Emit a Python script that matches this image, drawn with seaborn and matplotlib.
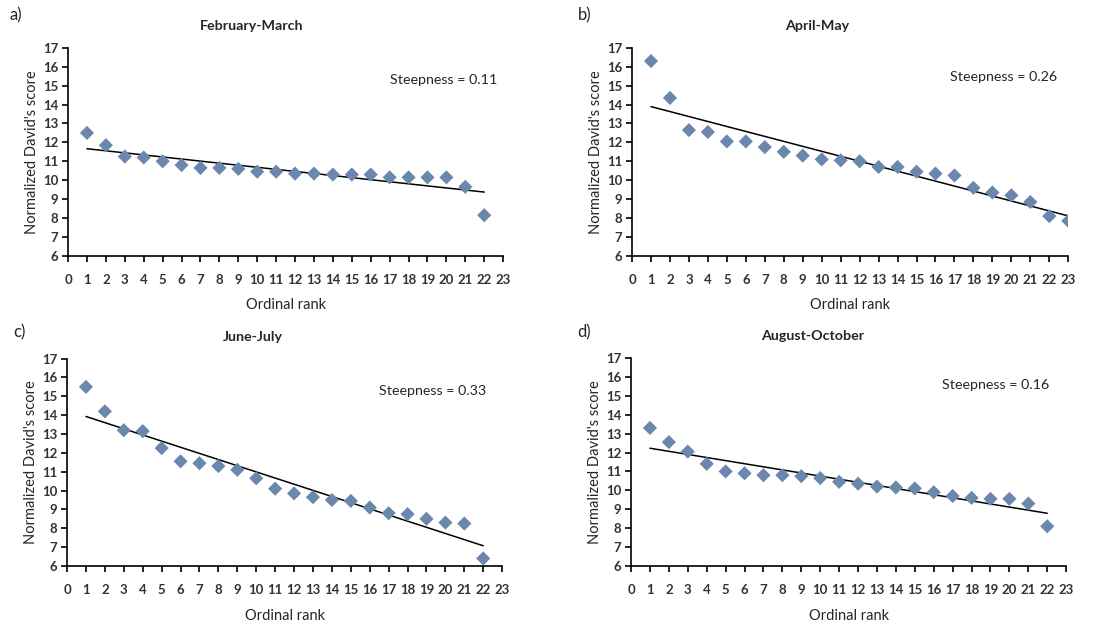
import matplotlib
matplotlib.use("Agg")
import matplotlib.pyplot as plt
import seaborn as sns
import pandas as pd

# David's scores, one list per period
feb_march = [12.5, 11.85, 11.25, 11.2, 11.0, 10.8, 10.65, 10.65, 10.6, 10.45, 10.45,
             10.35, 10.35, 10.3, 10.3, 10.3, 10.15, 10.15, 10.15, 10.15, 9.65, 8.15]
april_may = [16.3, 14.35, 12.65, 12.55, 12.05, 12.05, 11.75, 11.5, 11.3, 11.1, 11.05,
             11.0, 10.7, 10.7, 10.45, 10.35, 10.25, 9.6, 9.35, 9.2, 8.85, 8.1, 7.85]
june_july = [15.5, 14.2, 13.2, 13.15, 12.25, 11.55, 11.45, 11.3, 11.1, 10.65, 10.1,
             9.85, 9.65, 9.5, 9.45, 9.1, 8.8, 8.75, 8.5, 8.3, 8.25, 6.4]
aug_oct = [13.3, 12.55, 12.05, 11.4, 11.0, 10.9, 10.8, 10.8, 10.75, 10.65, 10.45,
           10.35, 10.2, 10.15, 10.1, 9.9, 9.7, 9.6, 9.55, 9.55, 9.3, 8.1]

titles = ["February-March", "April-May", "June-July", "August-October"]
letters = ["a)", "b)", "c)", "d)"]
steepness = ["0.11", "0.26", "0.33", "0.16"]
x_ticks = list(range(0, 24))
y_ticks = list(range(6, 18))

sns.set_style("white")
plt.rcParams['font.family'] = ['Lato', 'DejaVu Sans']

fig = plt.figure(figsize=(11.1, 6.21), dpi=100)

# axes boxes in figure fractions: left, bottom, width, height
boxes = [
    [0.0613, 0.588, 0.392, 0.335],
    [0.5694, 0.588, 0.393, 0.335],
    [0.0604, 0.0886, 0.392, 0.334],
    [0.5685, 0.0886, 0.392, 0.335],
]
text_pos = [(0.74, 0.846), (0.73, 0.86), (0.717, 0.845), (0.715, 0.87)]
title_x = [0.423, 0.424, 0.428, 0.418]

series = [feb_march, april_may, june_july, aug_oct]

for i, scores in enumerate(series):
    ax = fig.add_axes(boxes[i])
    df = pd.DataFrame({"rank": range(1, len(scores) + 1), "score": scores})
    sns.regplot(data=df, x="rank", y="score", ax=ax, scatter=False, ci=None,
                truncate=True, line_kws=dict(color="black", lw=1.1))
    sns.scatterplot(data=df, x="rank", y="score", ax=ax, marker="D", s=52,
                    color="#6b87ad", edgecolor="none", zorder=3)

    ax.set_xlim(0, 23)
    ax.set_ylim(6, 17)
    ax.set_xticks(x_ticks)
    ax.set_yticks(y_ticks)
    ax.tick_params(axis="both", direction="out", length=4, width=1.2,
                   labelsize=9.5, colors="black", bottom=True, left=True, pad=3)
    ax.tick_params(axis="x", pad=9)
    for lab in ax.get_xticklabels() + ax.get_yticklabels():
        lab.set_fontweight("bold")
        lab.set_color("#333333")
    sns.despine(ax=ax)
    for side in ["left", "bottom"]:
        ax.spines[side].set_color("black")
        ax.spines[side].set_linewidth(1.2)

    ax.set_xlabel("Ordinal rank", fontsize=10.5, labelpad=9)
    ax.set_ylabel("Normalized David's score", fontsize=10.5, labelpad=3)
    ax.text(title_x[i], 1.105, titles[i], transform=ax.transAxes, ha="center",
            va="center", fontsize=10.3, fontweight="bold")
    ax.text(text_pos[i][0], text_pos[i][1], "Steepness = " + steepness[i],
            transform=ax.transAxes, ha="left", va="center", fontsize=10.3)

# panel letters
fig.text(0.009, 0.975, letters[0], fontsize=12, va="center")
fig.text(0.521, 0.975, letters[1], fontsize=12, va="center")
fig.text(0.012, 0.464, letters[2], fontsize=12, va="center")
fig.text(0.520, 0.464, letters[3], fontsize=12, va="center")

fig.savefig("out.png", dpi=100, facecolor="white")
